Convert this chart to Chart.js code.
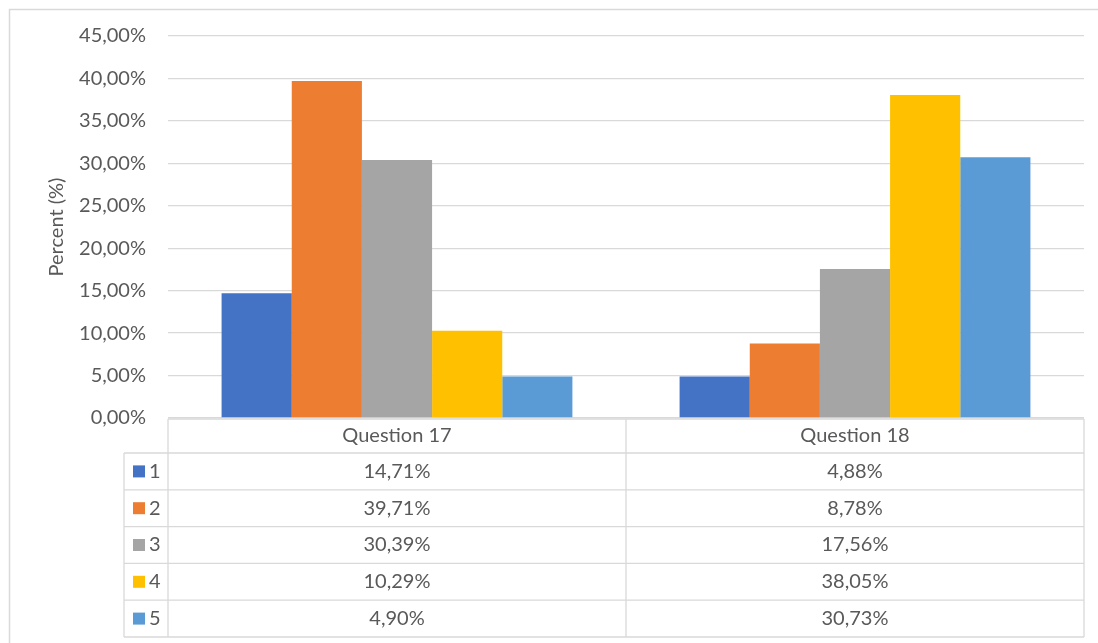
<!DOCTYPE html>
<html>
<head>
<meta charset="utf-8">
<script src="https://cdn.jsdelivr.net/npm/chart.js@4/dist/chart.umd.min.js"></script>
<style>
  html, body { margin: 0; padding: 0; background: #fff; }
  #wrap { width: 1098px; height: 643px; position: relative; }
</style>
</head>
<body>
<div id="wrap"><canvas id="myChart"></canvas></div>
<script>
const categories = ['Question 17', 'Question 18'];
const seriesNames = ['1', '2', '3', '4', '5'];
const seriesColors = ['#4472C4', '#ED7D31', '#A5A5A5', '#FFC000', '#5B9BD5'];
const values1 = [14.71, 4.88];
const values2 = [39.71, 8.78];
const values3 = [30.39, 17.56];
const values4 = [10.29, 38.05];
const values5 = [4.90, 30.73];
const seriesValues = [values1, values2, values3, values4, values5];

const textColor = '#595959';
const lineColor = '#D9D9D9';
const fontFamily = 'Lato, "Open Sans", sans-serif';
const fontSize = 20;

function fmt(v, digits) {
    return v.toFixed(digits).replace('.', ',') + '%';
}

// data table under the plot: header row with categories, then one row per series
const dataTablePlugin = {
    id: 'dataTable',
    afterDraw(chart) {
        const ctx = chart.ctx;
        const area = chart.chartArea;
        const xs = chart.scales.x;
        const top = area.bottom + 1;
        const headerH = 34;
        const rowH = 36.8;
        const keyLeft = 124;
        const bottom = top + headerH + rowH * seriesNames.length;
        const half = (area.right - area.left) / categories.length / 2;

        ctx.save();
        // outer frame of the chart box
        ctx.strokeStyle = lineColor;
        ctx.lineWidth = 1.5;
        ctx.beginPath();
        ctx.moveTo(9.5, 700);
        ctx.lineTo(9.5, 9.5);
        ctx.lineTo(1200, 9.5);
        ctx.stroke();

        ctx.lineWidth = 1.3;
        ctx.beginPath();
        ctx.moveTo(area.left, top);
        ctx.lineTo(area.right, top);
        ctx.moveTo(area.left, top);
        ctx.lineTo(area.left, bottom);
        ctx.moveTo(area.right, top);
        ctx.lineTo(area.right, bottom);
        ctx.moveTo(keyLeft, top + headerH);
        ctx.lineTo(keyLeft, bottom);
        for (let r = 0; r <= seriesNames.length; r++) {
            const y = top + headerH + r * rowH;
            ctx.moveTo(keyLeft, y);
            ctx.lineTo(area.right, y);
        }
        categories.forEach((c, i) => {
            if (i === 0) return;
            const x = xs.getPixelForValue(i) - half;
            ctx.moveTo(x, top);
            ctx.lineTo(x, bottom);
        });
        ctx.stroke();

        ctx.fillStyle = textColor;
        ctx.font = fontSize + 'px ' + fontFamily;
        ctx.textAlign = 'center';
        ctx.textBaseline = 'middle';
        categories.forEach((c, i) => {
            ctx.fillText(c, xs.getPixelForValue(i), top + headerH / 2);
        });

        seriesNames.forEach((name, s) => {
            const cy = top + headerH + s * rowH + rowH / 2;
            ctx.fillStyle = seriesColors[s];
            ctx.fillRect(133, cy - 6, 12, 12);
            ctx.fillStyle = textColor;
            ctx.textAlign = 'left';
            ctx.fillText(name, 149, cy);
            ctx.textAlign = 'center';
            seriesValues[s].forEach((v, i) => {
                ctx.fillText(fmt(v, 2), xs.getPixelForValue(i), cy);
            });
        });
        ctx.restore();
    }
};

const ctx = document.getElementById('myChart').getContext('2d');
new Chart(ctx, {
    type: 'bar',
    data: {
        labels: categories,
        datasets: seriesNames.map((name, s) => ({
            label: name,
            data: seriesValues[s],
            backgroundColor: seriesColors[s],
            borderWidth: 0,
            barPercentage: 1,
            categoryPercentage: 0.766
        }))
    },
    options: {
        responsive: true,
        maintainAspectRatio: false,
        animation: false,
        layout: { padding: { left: 0, top: 36, right: 14, bottom: 225 } },
        plugins: {
            legend: { display: false },
            tooltip: { enabled: false }
        },
        scales: {
            x: {
                display: false
            },
            y: {
                min: 0,
                max: 45,
                ticks: {
                    stepSize: 5,
                    color: textColor,
                    padding: 22,
                    font: { family: fontFamily, size: fontSize },
                    callback: v => fmt(v, 2)
                },
                grid: { color: lineColor, lineWidth: 1.3, drawTicks: false },
                border: { display: false },
                title: {
                    display: true,
                    text: 'Percent (%)',
                    color: textColor,
                    font: { family: fontFamily, size: fontSize },
                    padding: { top: 45, bottom: 0 }
                },
                afterFit(scale) { scale.width = 168; }
            }
        }
    },
    plugins: [dataTablePlugin]
});
</script>
</body>
</html>
